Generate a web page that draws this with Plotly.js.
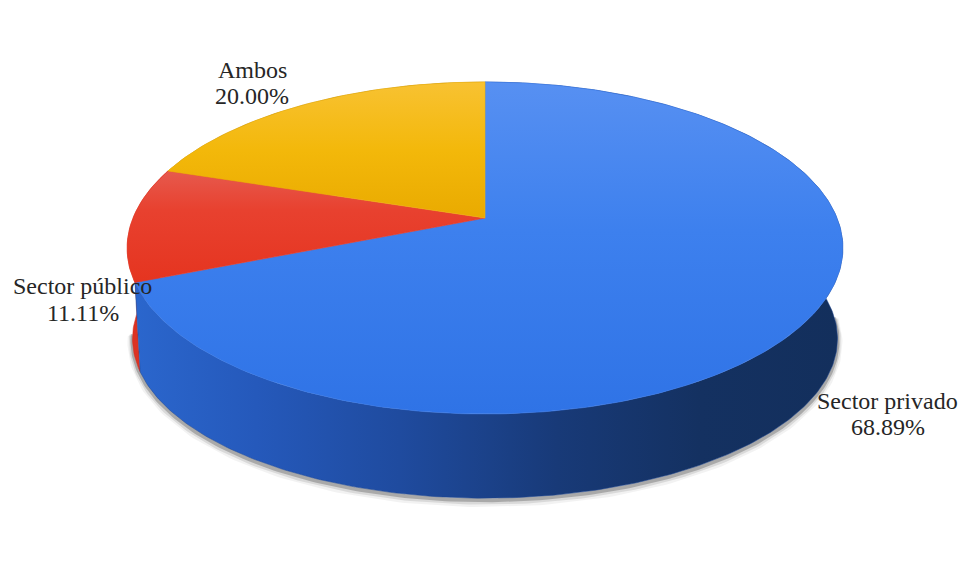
<!DOCTYPE html>
<html><head><meta charset="utf-8">
<script src="https://cdn.plot.ly/plotly-3.0.1.min.js"></script>
<style>html,body{margin:0;padding:0;background:#fff}#chart{width:963px;height:567px}</style>
</head><body><div id="chart"></div>
<script>
// ---- data ----
const categories = ['Sector privado', 'Sector público', 'Ambos'];
const values = [68.89, 11.11, 20.00];

// ---- style ----
const topScales = [
  [[0, '#5790f2'], [0.45, '#3d80ee'], [1, '#2f73e6']],
  [[0, '#e65a4e'], [0.35, '#e8412f'], [1, '#e5341f']],
  [[0, '#f8c232'], [0.5, '#f3b80a'], [1, '#e9aa00']]
];
const topStart = [82, 170, 82];
const topStop = [414, 285, 220];
const sideScales = [
  [[0, '#2b67ce'], [0.18, '#2559bb'], [0.38, '#1f4b9f'], [0.6, '#183a78'], [0.8, '#143161'], [1, '#132f5c']],
  [[0, '#dc3222'], [1, '#c42818']],
  [[0, '#c08a00'], [1, '#a87800']]
];
const lineCols = ['#3a7cec', '#e53c28', '#f2b610'];
const sideLine = ['#1c4590', '#d02d1e', '#b08000'];
const labelPos = [[887.5, 401, 427], [82.5, 286, 313], [252, 70, 96]];

// geometry of the projected disk
const CX = 485, CY = 218, A = 352, B = 160.6, K = 0.1807;
const CYB = 310, AB = A * 0.985, BB = B * 0.96;

function proj(theta, bottom) {
  const t = theta * Math.PI / 180, u = Math.sin(t), v = Math.cos(t);
  const d = 1 + K * v;
  const a = bottom ? AB : A, b = bottom ? BB : B, c = bottom ? CYB : CY;
  return [CX + a * u / d, c - b * v / d];
}
function arc(a1, a2, bottom) {
  const n = Math.max(2, Math.ceil(Math.abs(a2 - a1) / 0.8));
  const xs = [], ys = [];
  for (let i = 0; i <= n; i++) {
    const p = proj(a1 + (a2 - a1) * i / n, bottom);
    xs.push(p[0]); ys.push(p[1]);
  }
  return [xs, ys];
}

const total = values.reduce((s, v) => s + v, 0);
const angles = [];
let acc = 0;
values.forEach(v => { const a1 = acc / total * 360; acc += v; angles.push([a1, acc / total * 360]); });

const traces = [];
// soft shadow below the front rim
[[10, 'rgba(0,0,0,0.05)', 4], [7, 'rgba(0,0,0,0.10)', 3], [4, 'rgba(0,0,0,0.22)', 2]].forEach(s => {
  const [xs, ys] = arc(92, 262, true);
  traces.push({type: 'scatter', mode: 'lines', x: xs, y: ys.map(y => y + s[2]),
    line: {color: s[1], width: s[0]}, hoverinfo: 'skip', showlegend: false});
});
// sides (back slices first)
[2, 1, 0].forEach(i => {
  const [a1, a2] = angles[i];
  const t = arc(a1, a2, false), b = arc(a2, a1, true);
  traces.push({type: 'scatter', mode: 'lines', fill: 'toself',
    x: t[0].concat(b[0]), y: t[1].concat(b[1]),
    line: {width: 0.5, color: sideLine[i]},
    fillgradient: {type: 'horizontal', colorscale: sideScales[i], start: 127, stop: 843},
    hoverinfo: 'skip', showlegend: false, name: categories[i]});
});
// top faces
values.forEach((v, i) => {
  const [a1, a2] = angles[i];
  const t = arc(a1, a2, false);
  traces.push({type: 'scatter', mode: 'lines', fill: 'toself',
    x: [CX].concat(t[0], [CX]), y: [CY].concat(t[1], [CY]),
    line: {width: 0.6, color: lineCols[i]},
    fillgradient: {type: 'vertical', colorscale: topScales[i], start: topStart[i], stop: topStop[i]},
    hoverinfo: 'skip', showlegend: false, name: categories[i]});
});

const font = {family: 'Liberation Serif', size: 24, color: '#262626'};
const annotations = [];
categories.forEach((c, i) => {
  const p = labelPos[i];
  annotations.push({x: p[0], y: p[1], xref: 'x', yref: 'y', text: c, showarrow: false,
    xanchor: 'center', yanchor: 'middle', font: font});
  annotations.push({x: p[0], y: p[2], xref: 'x', yref: 'y', text: values[i].toFixed(2) + '%', showarrow: false,
    xanchor: 'center', yanchor: 'middle', font: font});
});

const layout = {
  width: 963, height: 567,
  margin: {l: 0, r: 0, t: 0, b: 0},
  paper_bgcolor: '#ffffff', plot_bgcolor: '#ffffff',
  xaxis: {range: [0, 963], visible: false, fixedrange: true},
  yaxis: {range: [567, 0], visible: false, fixedrange: true},
  showlegend: false,
  annotations: annotations
};
Plotly.newPlot('chart', traces, layout, {displayModeBar: false, staticPlot: true});
</script>
</body></html>
